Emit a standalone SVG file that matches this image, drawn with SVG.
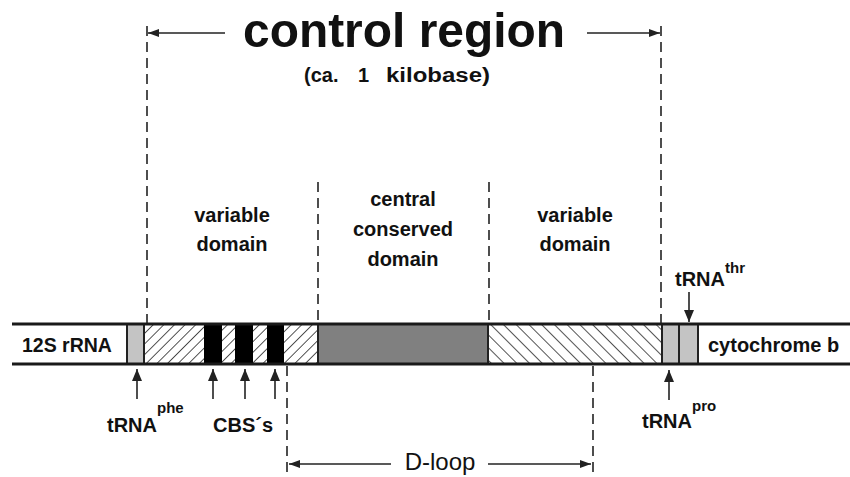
<svg xmlns="http://www.w3.org/2000/svg" width="850" height="477" viewBox="0 0 850 477">
  <style>
    .lbl { font-family: "Liberation Sans", Arial, sans-serif; font-weight: bold; fill: #111; }
    .sup { font-size: 15px; }
    .dash { stroke: #222; stroke-width: 1.6; stroke-dasharray: 10 6; fill: none; }
    .arr { stroke: #222; stroke-width: 1.6; fill: none; }
    .sep { stroke: #222; stroke-width: 2; }
    .rail { stroke: #1a1a1a; stroke-width: 3; }
  </style>
  <defs>
    <marker id="head" viewBox="0 0 12 10" refX="12" refY="5" markerWidth="12" markerHeight="10" markerUnits="userSpaceOnUse" orient="auto">
      <path d="M0,0 L12,5 L0,10 Z" fill="#222"/>
    </marker>
    <marker id="headSmall" viewBox="0 0 11 8" refX="11" refY="4" markerWidth="11" markerHeight="8" markerUnits="userSpaceOnUse" orient="auto">
      <path d="M0,0 L11,4 L0,8 Z" fill="#222"/>
    </marker>
    <pattern id="hatchFwd" width="7.5" height="7.5" patternUnits="userSpaceOnUse" patternTransform="rotate(45)">
      <line x1="0" y1="0" x2="0" y2="7.5" stroke="#1a1a1a" stroke-width="1.5"/>
    </pattern>
    <pattern id="hatchBack" width="9" height="9" patternUnits="userSpaceOnUse" patternTransform="rotate(-45)">
      <line x1="0" y1="0" x2="0" y2="9" stroke="#1a1a1a" stroke-width="1.5"/>
    </pattern>
  </defs>

  <rect width="850" height="477" fill="#fff"/>

  <!-- title -->
  <g id="title">
    <text class="lbl" x="243" y="47" font-size="49" textLength="322" lengthAdjust="spacingAndGlyphs">control region</text>
    <text class="lbl" y="82" font-size="20"><tspan x="304">(ca.</tspan><tspan x="358">1</tspan><tspan x="386" textLength="104" lengthAdjust="spacingAndGlyphs">kilobase)</tspan></text>
  </g>

  <!-- domain labels -->
  <g id="variable-domain-left">
    <text class="lbl" x="232" y="222" font-size="20" text-anchor="middle">variable</text>
    <text class="lbl" x="232" y="251" font-size="20" text-anchor="middle">domain</text>
  </g>
  <g id="central-conserved-domain">
    <text class="lbl" x="403" y="206" font-size="20" text-anchor="middle">central</text>
    <text class="lbl" x="403" y="236" font-size="20" text-anchor="middle">conserved</text>
    <text class="lbl" x="403" y="266" font-size="20" text-anchor="middle">domain</text>
  </g>
  <g id="variable-domain-right">
    <text class="lbl" x="575" y="222" font-size="20" text-anchor="middle">variable</text>
    <text class="lbl" x="575" y="251" font-size="20" text-anchor="middle">domain</text>
  </g>

  <!-- the genome strip -->
  <g id="strip">
    <rect x="144" y="324" width="174" height="40" fill="url(#hatchFwd)"/>
    <rect x="488" y="324" width="174" height="40" fill="url(#hatchBack)"/>
    <rect x="318" y="324" width="170" height="40" fill="#808080"/>
    <g id="trna-phe-box"><rect x="127" y="324" width="17" height="40" fill="#c4c4c4"/></g>
    <g id="trna-pro-box"><rect x="662" y="324" width="16" height="40" fill="#c4c4c4"/></g>
    <g id="trna-thr-box"><rect x="680" y="324" width="18" height="40" fill="#c4c4c4"/></g>
    <g id="cbs">
      <rect x="204" y="324" width="18" height="40" fill="#000"/>
      <rect x="235" y="324" width="18" height="40" fill="#000"/>
      <rect x="267" y="324" width="17" height="40" fill="#000"/>
    </g>
    <line class="sep" x1="127" y1="324" x2="127" y2="364"/>
    <line class="sep" x1="144" y1="324" x2="144" y2="364"/>
    <line class="sep" x1="318" y1="324" x2="318" y2="364"/>
    <line class="sep" x1="488" y1="324" x2="488" y2="364"/>
    <line class="sep" x1="662" y1="324" x2="662" y2="364"/>
    <line class="sep" x1="679" y1="324" x2="679" y2="364"/>
    <line class="sep" x1="698" y1="324" x2="698" y2="364"/>
    <line class="rail" x1="12" y1="324" x2="850" y2="324"/>
    <line class="rail" x1="12" y1="364" x2="850" y2="364"/>
  </g>

  <g id="label-12s">
    <text class="lbl" x="22" y="352" font-size="19.5">12S rRNA</text>
  </g>
  <g id="label-cytb">
    <text class="lbl" x="708" y="352" font-size="20">cytochrome b</text>
  </g>

  <g id="label-trna-phe">
    <text class="lbl" x="107" y="432" font-size="20">tRNA<tspan class="sup" dy="-19">phe</tspan></text>
  </g>
  <g id="label-cbs">
    <text class="lbl" x="213" y="432" font-size="20">CBS´s</text>
  </g>
  <g id="label-trna-pro">
    <text class="lbl" x="642" y="428" font-size="20">tRNA<tspan class="sup" dy="-17">pro</tspan></text>
  </g>
  <g id="label-trna-thr">
    <text class="lbl" x="675" y="286" font-size="20">tRNA<tspan class="sup" dy="-13">thr</tspan></text>
  </g>
  <g id="label-dloop">
    <text x="440" y="470" font-size="24" text-anchor="middle" font-family="Liberation Sans, Arial, sans-serif" fill="#111">D-loop</text>
  </g>

  <!-- connectors -->
  <g id="connectors">
    <!-- control region bounds -->
    <line class="dash" x1="147" y1="26" x2="147" y2="323"/>
    <line class="dash" x1="661" y1="26" x2="661" y2="323"/>
    <line class="arr" x1="225" y1="33" x2="148" y2="33" marker-end="url(#headSmall)"/>
    <line class="arr" x1="587" y1="33" x2="660" y2="33" marker-end="url(#headSmall)"/>
    <!-- domain bounds -->
    <line class="dash" x1="318" y1="182" x2="318" y2="323"/>
    <line class="dash" x1="489" y1="182" x2="489" y2="323"/>
    <!-- D-loop bounds -->
    <line class="dash" x1="287" y1="366" x2="287" y2="477"/>
    <line class="dash" x1="593" y1="366" x2="593" y2="477"/>
    <line class="arr" x1="391" y1="464" x2="289" y2="464" marker-end="url(#headSmall)"/>
    <line class="arr" x1="488" y1="464" x2="591" y2="464" marker-end="url(#headSmall)"/>
    <!-- feature pointers -->
    <line class="arr" x1="137" y1="399" x2="137" y2="369" marker-end="url(#head)"/>
    <line class="arr" x1="213" y1="399" x2="213" y2="369" marker-end="url(#head)"/>
    <line class="arr" x1="245" y1="399" x2="245" y2="369" marker-end="url(#head)"/>
    <line class="arr" x1="275" y1="399" x2="275" y2="369" marker-end="url(#head)"/>
    <line class="arr" x1="669" y1="400" x2="669" y2="370" marker-end="url(#head)"/>
    <line class="arr" x1="689" y1="292" x2="689" y2="322" marker-end="url(#head)"/>
  </g>
</svg>
